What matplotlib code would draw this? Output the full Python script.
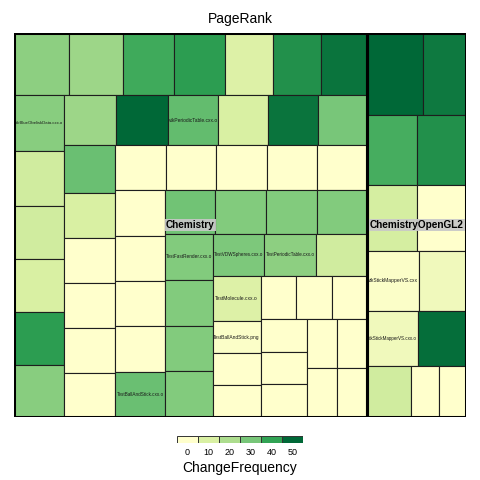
import matplotlib
matplotlib.use('Agg')
import matplotlib.pyplot as plt
from matplotlib.colors import LinearSegmentedColormap, Normalize
from matplotlib.patches import Rectangle

plt.rcParams['font.family'] = ['Liberation Sans', 'DejaVu Sans']

# PageRank (x 1e-3) and ChangeFrequency per file, sorted by PageRank inside each directory
groups = ['Chemistry', 'ChemistryOpenGL2']

chem_pagerank = [3.410, 3.350, 3.165, 3.160, 2.980, 2.975, 2.855,
                 2.835, 2.715, 2.665, 2.650, 2.640, 2.620,
                 2.615, 2.610, 2.545, 2.510, 2.490, 2.475,
                 2.430, 2.320, 2.315, 2.315, 2.310, 2.265,
                 2.250, 2.245, 2.240, 2.236, 2.232,
                 2.228, 2.224, 2.220, 2.216, 2.212,
                 2.208, 2.204, 2.200, 2.196,
                 2.192, 2.188, 2.184, 2.180,
                 2.176, 2.172, 2.168,
                 2.164, 1.530, 1.525, 1.520,
                 1.515, 1.510, 1.505,
                 1.500, 1.495, 1.490,
                 1.485, 1.480, 1.475, 1.470]
chem_freq = [26, 23, 38, 41, 9, 43, 48,
             27, 12, 12, 10, 41, 27,
             23, 51, 33, 10, 48, 30,
             32, 10, 0, 0, 0, 0,
             0, 0, 0, 0, 0,
             0, 0, 0, 0, 32,
             31, 28, 28, 28,
             28, 28, 28, 28,
             29, 26, 12,
             9, 1, 0, 0,
             0, 0, 0,
             0, 0, 0,
             0, 0, 0, 0]
chem_files = [''] * 60
chem_files[7] = 'vtkBlueObeliskData.cxx.o'
chem_files[15] = 'vtkPeriodicTable.cxx.o'
chem_files[34] = 'TestBallAndStick.cxx.o'
chem_files[39] = 'TestFastRender.cxx.o'
chem_files[43] = 'TestVDWSpheres.cxx.o'
chem_files[44] = 'TestPeriodicTable.cxx.o'
chem_files[46] = 'TestMolecule.cxx.o'
chem_files[47] = 'TestBallAndStick.png'

gl2_pagerank = [4.592, 3.526, 3.500, 3.430, 3.300, 3.234, 3.120, 2.820,
                2.805, 2.640, 2.244, 1.400, 1.390]
gl2_freq = [52, 47, 37, 43, 11, 0, 1, 4, 4, 49, 12, 0, 0]
gl2_files = [''] * 13
gl2_files[6] = 'vtkStickMapperVS.cxx'
gl2_files[8] = 'vtkStickMapperVS.cxx.o'

legend_ticks = [0, 10, 20, 30, 40, 50]
palette = ['#ffffcc', '#d9f0a3', '#addd8e', '#78c679', '#31a354', '#006837']

cmap = LinearSegmentedColormap.from_list('ylgn', palette)
norm = Normalize(0, 50)


def first_ratio(vals, length):
    thick = sum(vals) / length
    along = vals[0] / thick
    return max(along / thick, thick / along)


def squarify(values, x, y, w, h):
    # squarified layout, strips along the shorter side, y grows downwards
    k = w * h / sum(values)
    vals = [v * k for v in values]
    rects = []
    while vals:
        if len(vals) == 1:
            rects.append((x, y, w, h))
            break
        length = min(w, h)
        i = 1
        while i < len(vals) and first_ratio(vals[:i + 1], length) <= first_ratio(vals[:i], length):
            i += 1
        row, vals = vals[:i], vals[i:]
        s = sum(row)
        if w >= h:
            cw = s / h
            yy = y
            for v in row:
                rects.append((x, yy, cw, v / cw))
                yy += v / cw
            x += cw
            w -= cw
        else:
            rh = s / w
            xx = x
            for v in row:
                rects.append((xx, y, v / rh, rh))
                xx += v / rh
            y += rh
            h -= rh
    return rects


fig = plt.figure(figsize=(4.8, 4.8), dpi=100)
W, H = 453.0, 384.5
ax = fig.add_axes([13.5 / 480, 1 - 417 / 480, W / 480, H / 480])
ax.set_xlim(0, W)
ax.set_ylim(H, 0)
ax.axis('off')
renderer = fig.canvas.get_renderer()

data = [(chem_pagerank, chem_freq, chem_files), (gl2_pagerank, gl2_freq, gl2_files)]
group_rects = squarify([sum(d[0]) for d in data], 0, 0, W, H)

for name, grect, (pr, freq, files) in zip(groups, group_rects, data):
    gpatch = Rectangle(grect[:2], grect[2], grect[3], fill=False, lw=2.2,
                       edgecolor='black', zorder=4)
    for (x, y, w, h), f, label in zip(squarify(pr, *grect), freq, files):
        ax.add_patch(Rectangle((x, y), w, h, facecolor=cmap(norm(f)),
                               edgecolor='#1e1e1e', lw=0.8, zorder=2))
        if label:
            t = ax.text(x + w / 2, y + h / 2, label, ha='center', va='center',
                        fontsize=10, color='#1a1a1a', zorder=3)
            bw = t.get_window_extent(renderer=renderer).width
            t.set_fontsize(min(10 * 0.95 * w / bw, 3.6))
            t.set_clip_path(gpatch)
    ax.add_patch(gpatch)
    gx, gy, gw, gh = grect
    ax.text(gx + gw / 2, gy + gh / 2, name, ha='center', va='center',
            fontsize=7.2, fontweight='bold', color='black', zorder=5,
            bbox=dict(facecolor='#c8c8c8', edgecolor='none', pad=0.6, alpha=0.92))

fig.text(0.5, 1 - 19 / 480, 'PageRank', ha='center', va='center', fontsize=10)

# legend
lax = fig.add_axes([177 / 480, 1 - 443 / 480, 126 / 480, 7 / 480])
lax.bar(range(len(legend_ticks)), 1, width=1, color=cmap(norm(legend_ticks)),
        edgecolor='#333333', lw=0.7)
lax.set_xlim(-0.5, len(legend_ticks) - 0.5)
lax.set_ylim(0, 1)
lax.set_xticks(range(len(legend_ticks)))
lax.set_xticklabels([str(v) for v in legend_ticks])
lax.set_yticks([])
lax.tick_params(length=0, labelsize=6.5, pad=3.5)
for s in lax.spines.values():
    s.set_visible(False)
lax.set_xlabel('ChangeFrequency', fontsize=10, labelpad=3)

fig.savefig('out.png', dpi=100)
